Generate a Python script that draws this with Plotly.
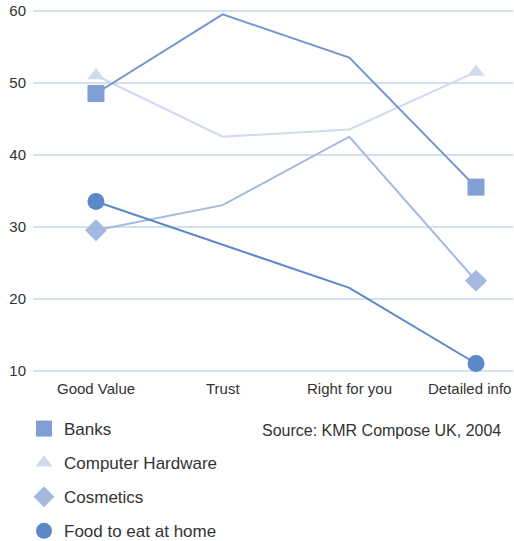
import plotly.graph_objects as go

categories = ["Good Value", "Trust", "Right for you", "Detailed info"]
banks = [48.5, 59.5, 53.5, 35.5]
hardware = [51, 42.5, 43.5, 51.5]
cosmetics = [29.5, 33, 42.5, 22.5]
food = [33.5, 27.5, 21.5, 11]
y_ticks = [10, 20, 30, 40, 50, 60]

series = [
    ("Banks", banks, "square", 17, "#7395d0", "#819fd4", 1),
    ("Computer Hardware", hardware, "triangle-up", 15, "#d0daee", "#d0daee", 2),
    ("Cosmetics", cosmetics, "diamond", 17, "#a5b9e0", "#a5b9e0", 3),
    ("Food to eat at home", food, "circle", 17, "#5b88c9", "#5b88c9", 4),
]
draw_order = [1, 2, 0, 3]

FONT = "Liberation Sans, Arial, sans-serif"
TXT = "#333333"
fig = go.Figure()
n = len(categories)
for i in draw_order:
    name, vals, sym, size, lc, mc, rank = series[i]
    sizes = [size if j in (0, n - 1) else 0 for j in range(n)]
    fig.add_trace(go.Scatter(
        x=list(range(n)), y=vals, mode="lines+markers",
        line=dict(color=lc, width=2),
        marker=dict(symbol=sym, size=sizes, color=mc, opacity=1, line=dict(width=0)),
        showlegend=False, hoverinfo="skip",
    ))
for name, vals, sym, size, lc, mc, rank in series:
    fig.add_trace(go.Scatter(
        x=[None], y=[None], mode="markers", name=name,
        marker=dict(symbol=sym, size=size, color=mc, opacity=1),
        legendrank=rank, legendgroup=name,
    ))

annotations = []
for j, cat in enumerate(categories):
    last = j == n - 1
    annotations.append(dict(
        text=cat, xref="paper" if last else "x", yref="paper",
        x=1.0 if last else j, y=(380 - 388) / 380,
        xanchor="right" if last else "center", yanchor="middle",
        showarrow=False, font=dict(size=15, color=TXT),
    ))
annotations.append(dict(
    text="Source: KMR Compose UK, 2004", xref="paper", yref="paper",
    x=(503 - 33) / 480, y=(380 - 430) / 380, xanchor="right", yanchor="middle",
    showarrow=False, font=dict(size=16, color=TXT),
))

fig.update_layout(
    width=514, height=541,
    margin=dict(l=33, r=1, t=0, b=161, autoexpand=False),
    paper_bgcolor="white", plot_bgcolor="white",
    font=dict(family=FONT, color=TXT),
    xaxis=dict(
        range=[-0.497, 3.292], showticklabels=False,
        showgrid=False, zeroline=False, showline=False,
    ),
    yaxis=dict(
        range=[8.71, 61.49], tickmode="array", tickvals=y_ticks,
        showgrid=True, gridcolor="#d6dff0", gridwidth=2,
        zeroline=False, showline=False,
        tickfont=dict(size=15, color=TXT), ticklabelstandoff=6,
    ),
    legend=dict(
        x=(24 - 33) / 480, y=(380 - 411) / 380, xanchor="left", yanchor="top",
        font=dict(size=17, color=TXT), tracegroupgap=9,
        bgcolor="rgba(0,0,0,0)",
    ),
    annotations=annotations,
)
fig.write_html("out.html", config={"displayModeBar": False},
               post_script="document.body.style.margin='0';")
